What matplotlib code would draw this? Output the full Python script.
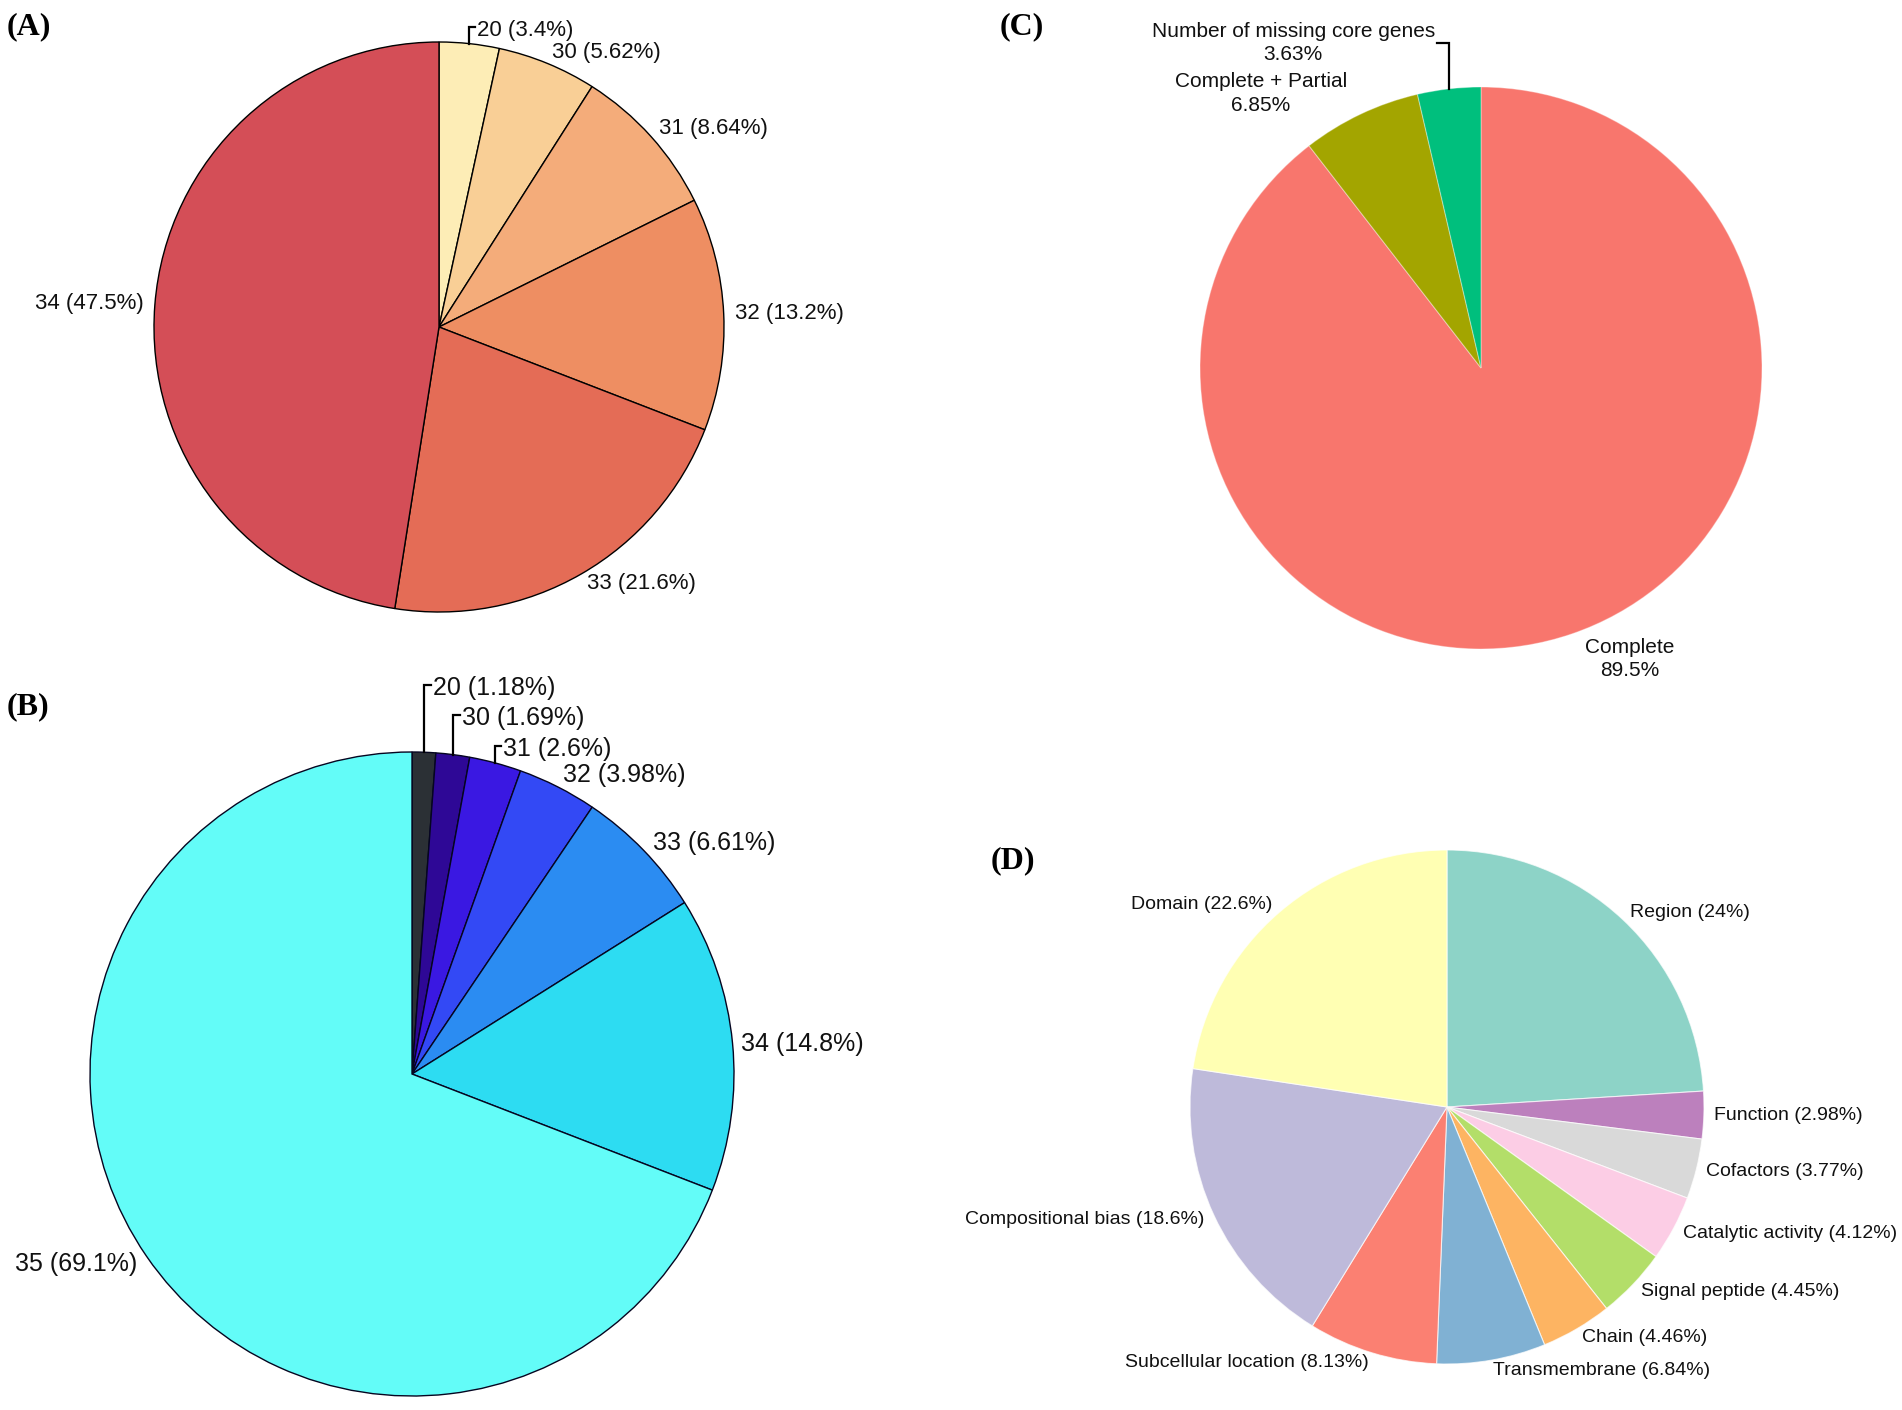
import matplotlib
matplotlib.use('Agg')
import matplotlib.pyplot as plt
import numpy as np

W, H = 1902, 1410
plt.rcParams['font.family'] = ['Liberation Sans', 'DejaVu Sans']

# (A)
a_names = ['20', '30', '31', '32', '33', '34']
a_pct = [3.4, 5.62, 8.64, 13.2, 21.6, 47.5]
a_colors = ['#FDEDB6', '#F9CF96', '#F4AC7A', '#EE8E62', '#E46C56', '#D44E57']

# (B)
b_names = ['20', '30', '31', '32', '33', '34', '35']
b_pct = [1.18, 1.69, 2.6, 3.98, 6.61, 14.8, 69.1]
b_colors = ['#2B3035', '#2E0896', '#3A18E2', '#3349F5', '#2B8CF2', '#2DDCF2', '#63FCF8']

# (C)
c_names = ['Complete', 'Complete + Partial', 'Number of missing core genes']
c_pct = [89.5, 6.85, 3.63]
c_colors = ['#F8766D', '#A3A500', '#00BF7D']

# (D)
d_names = ['Region', 'Function', 'Cofactors', 'Catalytic activity', 'Signal peptide',
           'Chain', 'Transmembrane', 'Subcellular location', 'Compositional bias', 'Domain']
d_pct = [24, 2.98, 3.77, 4.12, 4.45, 4.46, 6.84, 8.13, 18.6, 22.6]
d_colors = ['#8DD3C7', '#BC80BD', '#D9D9D9', '#FCCDE5', '#B3DE69',
            '#FDB462', '#80B1D3', '#FB8072', '#BEBADA', '#FFFFB3']

K = 1.8  # axes half-width in pie radii


def pie_axes(fig, cx, cy, r):
    # axes whose data unit equals the pie radius in pixels
    ax = fig.add_axes([(cx - K * r) / W, (H - cy - K * r) / H, 2 * K * r / W, 2 * K * r / H])
    ax.axis('off')
    ax.patch.set_visible(False)
    return ax


def draw_pie(ax, vals, texts, colors, size, edge, lw, moved=None, leaders=(), lift=0.01, dist=1.04):
    moved = moved or {}
    wedges, _ = ax.pie(vals, colors=colors, startangle=90, counterclock=False, radius=1,
                       wedgeprops=dict(edgecolor=edge, linewidth=lw))
    # pie() resets the limits, so set them afterwards
    ax.set_xlim(-K, K)
    ax.set_ylim(-K, K)
    ax.set_aspect('equal')
    for i, (w, t) in enumerate(zip(wedges, texts)):
        ang = np.deg2rad((w.theta1 + w.theta2) / 2)
        ex, ey = np.cos(ang), np.sin(ang)
        if i in moved:
            x, y, ha = moved[i]
        else:
            x, y = dist * ex, dist * ey
            ha = 'left' if x > 0 else 'right'
        ax.text(x, y, t, ha=ha, va='center', fontsize=size, multialignment='center',
                linespacing=1.3, color='#111111')
        if i in leaders:
            tx = x - 0.006 if ha == 'left' else x + 0.006
            ax.plot([ex, ex, tx], [ey, y + lift, y + lift], color='black', lw=1.6,
                    solid_joinstyle='miter', clip_on=False)
    return wedges


fig = plt.figure(figsize=(W / 100, H / 100), dpi=100)
fig.patch.set_facecolor('white')

# (A)
ax = pie_axes(fig, 439, 327, 285)
draw_pie(ax, a_pct, [f'{n} ({p:.3g}%)' for n, p in zip(a_names, a_pct)], a_colors, 16,
         'black', 1.0, moved={0: (0.133, 1.042, 'left')}, leaders={0})

# (B)
ax = pie_axes(fig, 412, 1074, 322)
draw_pie(ax, b_pct, [f'{n} ({p:.3g}%)' for n, p in zip(b_names, b_pct)], b_colors, 18,
         '#050520', 1.0,
         moved={0: (0.065, 1.199, 'left'), 1: (0.155, 1.106, 'left'), 2: (0.283, 1.009, 'left'),
                4: (0.748, 0.717, 'left'), 5: (1.022, 0.093, 'left'), 6: (-0.854, -0.590, 'right')},
         leaders={0, 1, 2})

# (C)
ax = pie_axes(fig, 1481, 368, 281)
draw_pie(ax, c_pct, [f'{n}\n{p:.3g}%' for n, p in zip(c_names, c_pct)], c_colors, 15,
         (1, 1, 1, 0.35), 0.8,
         moved={0: (0.530, -1.036, 'center'), 1: (-0.783, 0.977, 'center'), 2: (-0.164, 1.157, 'right')},
         leaders={2}, lift=0.0)

# (D)
ax = pie_axes(fig, 1447, 1107, 257)
draw_pie(ax, d_pct, [f'{n} ({p:.3g}%)' for n, p in zip(d_names, d_pct)], d_colors, 14,
         (1, 1, 1, 0.7), 0.8)

# panel tags
for tag, px, py in [('(A)', 7, 27), ('(B)', 7, 707), ('(C)', 1000, 27), ('(D)', 991, 861)]:
    fig.text(px / W, 1 - py / H, tag, ha='left', va='center', fontsize=23,
             fontweight='bold', family=['Liberation Serif', 'DejaVu Serif'])

fig.savefig('out.png', dpi=100, facecolor='white')
